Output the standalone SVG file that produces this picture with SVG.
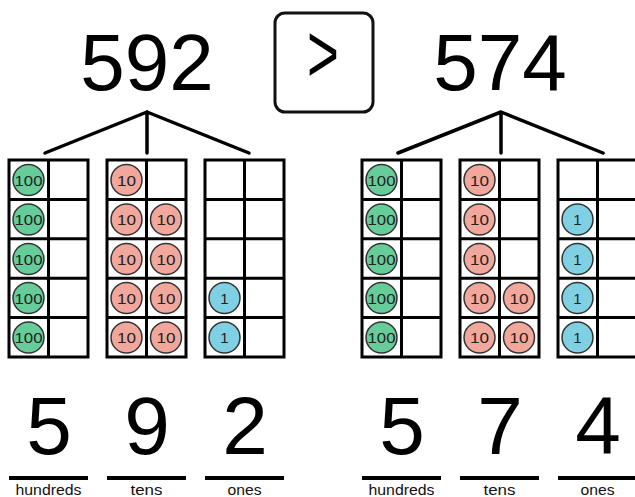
<svg xmlns="http://www.w3.org/2000/svg" width="635" height="497" viewBox="0 0 635 497">
<style>
.big{font-family:"Liberation Sans",Arial,sans-serif;font-size:80px;fill:#000;text-anchor:middle}
.dig{font-family:"Liberation Sans",Arial,sans-serif;font-size:82px;fill:#000;text-anchor:middle}
.lbl{font-family:"Liberation Sans",Arial,sans-serif;font-size:14px;fill:#111;text-anchor:middle}
.grid{fill:#fff;stroke:#000;stroke-width:3}
.gl{stroke:#000;stroke-width:3}
.tree{stroke:#000;stroke-width:3.5;fill:none;stroke-linecap:round}
.ul{stroke:#000;stroke-width:4}
.h{fill:#66cc99;stroke:#333;stroke-width:1.5}
.t{fill:#f2a79c;stroke:#333;stroke-width:1.5}
.o{fill:#7fd0e2;stroke:#333;stroke-width:1.5}
.ct{font-family:"Liberation Sans",Arial,sans-serif;font-size:15px;fill:#222;text-anchor:middle}
</style>
<defs>
<g id="g100"><circle class="h" r="15.5"/><text class="ct" y="5.5" textLength="28" lengthAdjust="spacingAndGlyphs">100</text></g>
<g id="g10"><circle class="t" r="15.5"/><text class="ct" y="5.5" textLength="19" lengthAdjust="spacingAndGlyphs">10</text></g>
<g id="g1"><circle class="o" r="15.5"/><text class="ct" y="5.5">1</text></g>
<g id="grid">
<rect class="grid" x="0" y="0" width="79" height="197"/>
<line class="gl" x1="39.5" y1="0" x2="39.5" y2="197"/>
<line class="gl" x1="0" y1="39.4" x2="79" y2="39.4"/>
<line class="gl" x1="0" y1="78.8" x2="79" y2="78.8"/>
<line class="gl" x1="0" y1="118.2" x2="79" y2="118.2"/>
<line class="gl" x1="0" y1="157.6" x2="79" y2="157.6"/>
</g>
</defs>

<g id="num-left"><text class="big" x="147" y="90">592</text></g>
<g id="num-right"><text class="big" x="500" y="90">574</text></g>
<g id="compare">
<rect x="275" y="13" width="98" height="99" rx="10" fill="#fff" stroke="#111" stroke-width="3"/>
<text transform="translate(323 82) scale(0.65 1)" x="0" y="0" font-family="Liberation Sans, Arial, sans-serif" font-size="84" text-anchor="middle" fill="#000">&gt;</text>
</g>

<g id="connectors">
<path class="tree" d="M147 112 L45 153 M147 112 L147 153 M147 112 L249 153"/>
<path class="tree" d="M501 112 L398 153 M501 112 L501 153 M501 112 L603 153"/>
</g>

<g id="left-hundreds">
<use href="#grid" x="9" y="160"/>
<use href="#g100" x="28.5" y="180"/>
<use href="#g100" x="28.5" y="219.5"/>
<use href="#g100" x="28.5" y="259"/>
<use href="#g100" x="28.5" y="298"/>
<use href="#g100" x="28.5" y="337.5"/>
</g>
<g id="left-tens">
<use href="#grid" x="107" y="160"/>
<use href="#g10" x="126.5" y="180"/>
<use href="#g10" x="126.5" y="219.5"/>
<use href="#g10" x="166" y="219.5"/>
<use href="#g10" x="126.5" y="259"/>
<use href="#g10" x="166" y="259"/>
<use href="#g10" x="126.5" y="298"/>
<use href="#g10" x="166" y="298"/>
<use href="#g10" x="126.5" y="337.5"/>
<use href="#g10" x="166" y="337.5"/>
</g>
<g id="left-ones">
<use href="#grid" x="205" y="160"/>
<use href="#g1" x="224.5" y="298"/>
<use href="#g1" x="224.5" y="337.5"/>
</g>

<g id="right-hundreds">
<use href="#grid" x="362" y="160"/>
<use href="#g100" x="381.5" y="180"/>
<use href="#g100" x="381.5" y="219.5"/>
<use href="#g100" x="381.5" y="259"/>
<use href="#g100" x="381.5" y="298"/>
<use href="#g100" x="381.5" y="337.5"/>
</g>
<g id="right-tens">
<use href="#grid" x="460" y="160"/>
<use href="#g10" x="479.5" y="180"/>
<use href="#g10" x="479.5" y="219.5"/>
<use href="#g10" x="479.5" y="259"/>
<use href="#g10" x="479.5" y="298"/>
<use href="#g10" x="519" y="298"/>
<use href="#g10" x="479.5" y="337.5"/>
<use href="#g10" x="519" y="337.5"/>
</g>
<g id="right-ones">
<use href="#grid" x="558" y="160"/>
<use href="#g1" x="577.5" y="219.5"/>
<use href="#g1" x="577.5" y="259"/>
<use href="#g1" x="577.5" y="298"/>
<use href="#g1" x="577.5" y="337.5"/>
</g>

<g id="place-left">
<text class="dig" x="49" y="454">5</text>
<text class="dig" x="147" y="454">9</text>
<text class="dig" x="245" y="454">2</text>
<line class="ul" x1="9" y1="478" x2="88" y2="478"/>
<line class="ul" x1="107" y1="478" x2="186" y2="478"/>
<line class="ul" x1="205" y1="478" x2="284" y2="478"/>
<text class="lbl" x="48.5" y="495" textLength="66" lengthAdjust="spacingAndGlyphs">hundreds</text>
<text class="lbl" x="146.5" y="495" textLength="32" lengthAdjust="spacingAndGlyphs">tens</text>
<text class="lbl" x="244.5" y="495" textLength="34" lengthAdjust="spacingAndGlyphs">ones</text>
</g>
<g id="place-right">
<text class="dig" x="402" y="454">5</text>
<text class="dig" x="500" y="454">7</text>
<text class="dig" x="598" y="454">4</text>
<line class="ul" x1="362" y1="478" x2="441" y2="478"/>
<line class="ul" x1="460" y1="478" x2="539" y2="478"/>
<line class="ul" x1="558" y1="478" x2="637" y2="478"/>
<text class="lbl" x="401.5" y="495" textLength="66" lengthAdjust="spacingAndGlyphs">hundreds</text>
<text class="lbl" x="499.5" y="495" textLength="32" lengthAdjust="spacingAndGlyphs">tens</text>
<text class="lbl" x="597.5" y="495" textLength="34" lengthAdjust="spacingAndGlyphs">ones</text>
</g>
</svg>
